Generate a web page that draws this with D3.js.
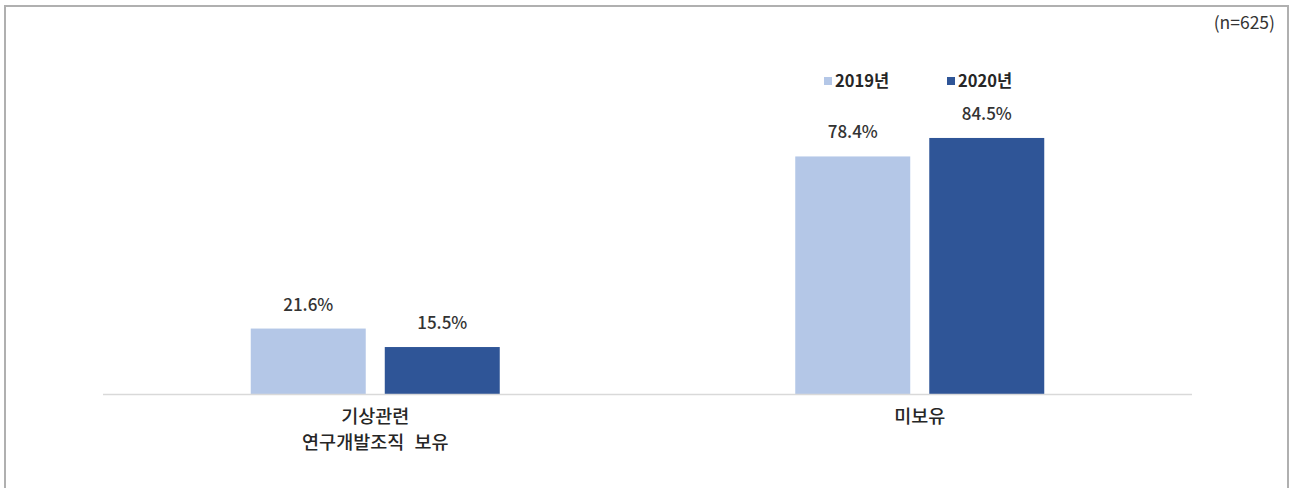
<!DOCTYPE html>
<html>
<head>
  <meta charset="utf-8">
  <style>
    body { margin: 0; padding: 0; background: white; font-family: "Noto Sans CJK KR", "Noto Sans", sans-serif; }
    svg { display: block; }
    .frame { fill: none; stroke: #b0b0b0; stroke-width: 2; }
    .baseline { stroke: #d9d9d9; stroke-width: 1.5; }
    .value { font-size: 17px; fill: #333; text-anchor: middle; font-weight: 500; }
    .cat { font-size: 18.5px; fill: #262626; text-anchor: middle; font-weight: 500; word-spacing: 6px; }
    .legend text { font-size: 16.5px; fill: #262626; font-weight: bold; }
    .note { font-size: 17.5px; fill: #333; text-anchor: end; }
  </style>
</head>
<body>
<div id="chart"></div>
<script src="https://d3js.org/d3.v7.min.js"></script>
<script>
  // categories and series
  var categories = ["기상관련\n연구개발조직 보유", "미보유"]
  var years = ["2019년", "2020년"]
  var values2019 = [21.6, 78.4]
  var values2020 = [15.5, 84.5]
  var colors = ["#b4c7e7", "#2f5597"]

  var width = 1289, height = 488

  var svg = d3.select("#chart").append("svg")
    .attr("width", width)
    .attr("height", height)

  // outer frame (bottom edge runs off the picture)
  svg.append("path")
    .attr("class", "frame")
    .attr("d", "M5,495 L5,6 L1288,6 L1288,495")

  var x = d3.scaleBand().domain(categories).range([103, 1192])
  var sub = d3.scaleBand().domain(years).range([-124.5, 124.5]).paddingInner(0.142)
  var y = d3.scaleLinear().domain([0, 100]).range([394, 91])

  var rows = categories.map(function(c, i) {
    return { cat: c, vals: [values2019[i], values2020[i]] }
  })

  var groups = svg.append("g").selectAll("g")
    .data(rows).enter().append("g")
    .attr("transform", function(d) { return "translate(" + (x(d.cat) + x.bandwidth() / 2) + ",0)" })

  groups.selectAll("rect")
    .data(function(d) { return d.vals.map(function(v, j) { return { year: years[j], v: v, j: j } }) })
    .enter().append("rect")
    .attr("x", function(d) { return sub(d.year) })
    .attr("width", sub.bandwidth())
    .attr("y", function(d) { return y(d.v) })
    .attr("height", function(d) { return y(0) - y(d.v) })
    .attr("fill", function(d) { return colors[d.j] })

  groups.selectAll("text.value")
    .data(function(d) { return d.vals.map(function(v, j) { return { year: years[j], v: v } }) })
    .enter().append("text")
    .attr("class", "value")
    .attr("x", function(d) { return sub(d.year) + sub.bandwidth() / 2 })
    .attr("y", function(d) { return y(d.v) - 18 })
    .text(function(d) { return d.v.toFixed(1) + "%" })

  // baseline
  svg.append("line")
    .attr("class", "baseline")
    .attr("x1", 103).attr("x2", 1192)
    .attr("y1", y(0) + 0.5).attr("y2", y(0) + 0.5)

  // category labels
  groups.each(function(d) {
    var lines = d.cat.split("\n")
    var t = d3.select(this).append("text").attr("class", "cat")
    lines.forEach(function(l, k) {
      t.append("tspan").attr("x", 0).attr("y", 423 + k * 26).text(l)
    })
  })

  // legend
  var legend = svg.append("g").attr("class", "legend")
    .selectAll("g").data(years).enter().append("g")
    .attr("transform", function(d, i) { return "translate(" + (824 + i * 123) + ",0)" })

  legend.append("rect")
    .attr("x", 0).attr("y", 77)
    .attr("width", 8).attr("height", 8)
    .attr("fill", function(d, i) { return colors[i] })

  legend.append("text")
    .attr("x", 11).attr("y", 87)
    .text(function(d) { return d })

  svg.append("text")
    .attr("class", "note")
    .attr("x", 1275).attr("y", 29)
    .text("(n=625)")
</script>
</body>
</html>
